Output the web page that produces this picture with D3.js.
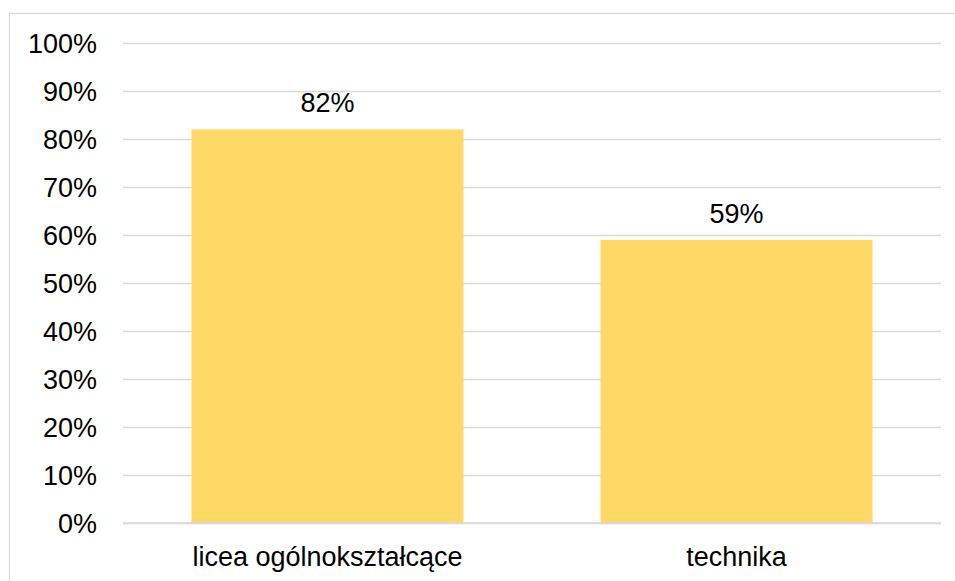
<!DOCTYPE html>
<html><head><meta charset="utf-8">
<script src="https://cdn.jsdelivr.net/npm/d3@7"></script>
<style>html,body{margin:0;padding:0;background:#fff;}svg{display:block;}</style>
</head><body>
<script>
const categories = ["licea ogólnokształcące", "technika"];
const values = [0.82, 0.59];
const valueLabels = ["82%", "59%"];
const tickValues = [0, 0.1, 0.2, 0.3, 0.4, 0.5, 0.6, 0.7, 0.8, 0.9, 1.0];

(function () {
const W = 955, H = 581;
const svg = d3.select("body").append("svg").attr("width", W).attr("height", H);
svg.append("rect").attr("x", 9.5).attr("y", 13.5).attr("width", W + 10).attr("height", H + 10)
  .attr("fill", "#fff").attr("stroke", "#d9d9d9").attr("stroke-width", 1.3);

const mLeft = 123, mRight = 941, mTop = 43, mBottom = 523;
const x = d3.scaleBand().domain(categories).range([mLeft, mRight]).paddingInner(0.335).paddingOuter(0.1675);
const y = d3.scaleLinear().domain([0, 1]).range([mBottom, mTop]);
const font = "Liberation Sans, Arial, sans-serif";
const fs = 27;

const yAxis = d3.axisLeft(y).tickValues(tickValues).tickFormat(d3.format(".0%")).tickSize(-(mRight - mLeft)).tickPadding(26);
const gy = svg.append("g").attr("transform", `translate(${mLeft},0)`).call(yAxis);
gy.select(".domain").remove();
gy.selectAll(".tick line").attr("stroke", "#d9d9d9").attr("stroke-width", 1.5);
gy.selectAll(".tick text").attr("font-family", font).attr("font-size", fs).attr("fill", "#000").attr("dy", "0.36em");

svg.append("g").selectAll("rect").data(values).join("rect")
  .attr("x", (d, i) => x(categories[i])).attr("width", x.bandwidth())
  .attr("y", d => y(d)).attr("height", d => y(0) - y(d)).attr("fill", "#ffd966");

svg.append("line").attr("x1", mLeft).attr("x2", mRight).attr("y1", y(0)).attr("y2", y(0))
  .attr("stroke", "#d9d9d9").attr("stroke-width", 1.5);

svg.append("g").selectAll("text").data(values).join("text")
  .attr("x", (d, i) => x(categories[i]) + x.bandwidth() / 2).attr("y", d => y(d) - 17)
  .attr("text-anchor", "middle").attr("font-family", font).attr("font-size", fs).attr("fill", "#000")
  .text((d, i) => valueLabels[i]);

const xAxis = d3.axisBottom(x).tickSize(0).tickPadding(24);
const gx = svg.append("g").attr("transform", `translate(0,${mBottom})`).call(xAxis);
gx.select(".domain").remove();
gx.selectAll(".tick text").attr("font-family", font).attr("font-size", fs).attr("fill", "#000");
})();
</script>
</body></html>
